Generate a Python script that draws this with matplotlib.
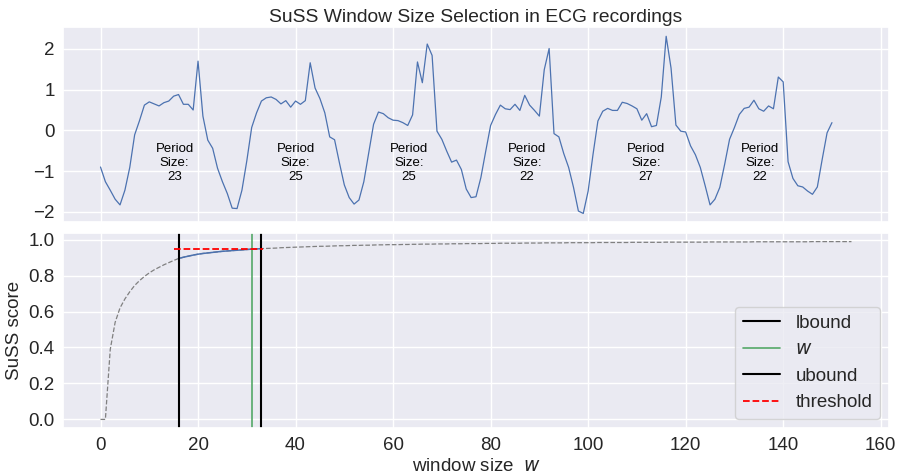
import matplotlib
matplotlib.use("Agg")
import matplotlib.pyplot as plt
from matplotlib.ticker import MultipleLocator, FormatStrFormatter
import seaborn as sns
import numpy as np

# ECG time series
ecg = [-0.90, -1.26, -1.47, -1.69, -1.83, -1.47, -0.91, -0.11, 0.24, 0.62,
       0.70, 0.65, 0.60, 0.68, 0.72, 0.84, 0.88, 0.64, 0.64, 0.50,
       1.70, 0.35, -0.24, -0.44, -0.93, -1.26, -1.55, -1.91, -1.92, -1.47,
       -0.75, 0.07, 0.43, 0.72, 0.80, 0.82, 0.76, 0.65, 0.73, 0.57,
       0.72, 0.64, 0.73, 1.66, 1.04, 0.78, 0.43, -0.16, -0.23, -0.80,
       -1.34, -1.65, -1.81, -1.71, -1.26, -0.55, 0.15, 0.45, 0.41, 0.31,
       0.25, 0.24, 0.19, 0.12, 0.38, 1.68, 1.17, 2.12, 1.84, -0.02,
       -0.22, -0.51, -0.78, -0.73, -0.96, -1.44, -1.65, -1.63, -1.16, -0.51,
       0.12, 0.39, 0.62, 0.53, 0.51, 0.64, 0.49, 0.86, 0.62, 0.49,
       0.35, 1.49, 2.01, -0.08, -0.16, -0.57, -0.91, -1.40, -1.98, -2.04,
       -1.49, -0.59, 0.23, 0.47, 0.54, 0.49, 0.49, 0.69, 0.66, 0.60,
       0.53, 0.25, 0.41, 0.09, 0.12, 0.82, 2.31, 1.53, 0.13, -0.02,
       -0.04, -0.38, -0.60, -0.91, -1.36, -1.83, -1.69, -1.40, -0.83, -0.22,
       0.07, 0.39, 0.54, 0.57, 0.74, 0.53, 0.47, 0.60, 0.53, 1.31,
       1.19, -0.77, -1.18, -1.36, -1.39, -1.49, -1.57, -1.39, -0.71, -0.06,
       0.19]

# Period annotations
period_x = [15.2, 40.0, 63.2, 87.4, 111.8, 135.2]
period_sizes = [23, 25, 25, 22, 27, 22]
period_y = -0.80

# SuSS scores per window size (0..154)
suss = [0.000, 0.000, 0.390, 0.540, 0.620, 0.670, 0.710, 0.745, 0.772, 0.795,
        0.815, 0.832, 0.846, 0.860, 0.872, 0.884, 0.895, 0.902, 0.908, 0.914,
        0.919, 0.923, 0.926, 0.929, 0.932, 0.935, 0.937, 0.939, 0.941, 0.943,
        0.945, 0.947, 0.948, 0.950, 0.951, 0.952, 0.953, 0.955, 0.956, 0.957,
        0.958, 0.959, 0.960, 0.961, 0.962, 0.963, 0.963, 0.964, 0.965, 0.966,
        0.966, 0.967, 0.968, 0.968, 0.969, 0.969, 0.970, 0.971, 0.971, 0.972,
        0.972, 0.972, 0.973, 0.973, 0.974, 0.974, 0.975, 0.975, 0.975, 0.976,
        0.976, 0.976, 0.977, 0.977, 0.977, 0.978, 0.978, 0.978, 0.978, 0.979,
        0.979, 0.979, 0.980, 0.980, 0.980, 0.980, 0.980, 0.981, 0.981, 0.981,
        0.981, 0.982, 0.982, 0.982, 0.982, 0.982, 0.983, 0.983, 0.983, 0.983,
        0.983, 0.983, 0.984, 0.984, 0.984, 0.984, 0.984, 0.984, 0.984, 0.985,
        0.985, 0.985, 0.985, 0.985, 0.985, 0.985, 0.986, 0.986, 0.986, 0.986,
        0.986, 0.986, 0.986, 0.986, 0.986, 0.987, 0.987, 0.987, 0.987, 0.987,
        0.987, 0.987, 0.987, 0.987, 0.988, 0.988, 0.988, 0.988, 0.988, 0.988,
        0.988, 0.988, 0.988, 0.988, 0.988, 0.988, 0.989, 0.989, 0.989, 0.989,
        0.989, 0.989, 0.989, 0.989, 0.989]

lbound = 16
w_sel = 31
ubound = 33
threshold = 0.95
thr_start = 15
thr_end = 33.4

sns.set_theme(style="darkgrid")
plt.rcParams['font.family'] = ['Liberation Sans', 'DejaVu Sans']
FS = 13.5

fig = plt.figure(figsize=(9.02, 4.73), dpi=100)
ax1 = fig.add_axes([0.0698, 0.530, 0.9158, 0.412])
ax2 = fig.add_axes([0.0698, 0.0945, 0.9158, 0.4135], sharex=ax1)

deep = sns.color_palette("deep")

ax1.plot(np.arange(len(ecg)), ecg, color=deep[0], lw=0.9)
for px, ps in zip(period_x, period_sizes):
    ax1.text(px, period_y, f"Period\nSize:\n{ps}", ha="center", va="center",
             fontsize=9.5, color="black")
ax1.set_title("SuSS Window Size Selection in ECG recordings", fontsize=13.9, pad=4)
ax1.tick_params(labelsize=FS, labelbottom=False, length=0, pad=6)
ax1.yaxis.set_major_locator(MultipleLocator(1))

xs = np.arange(len(suss))
ax2.plot(xs, suss, color="gray", ls="--", lw=0.9)
ax2.plot(xs[lbound:ubound + 1], suss[lbound:ubound + 1], color=deep[0], lw=1.1)
ax2.axvline(lbound, color="black", lw=1.5, label="lbound")
ax2.axvline(w_sel, color=deep[2], lw=1.2, label="$w$")
ax2.axvline(ubound, color="black", lw=1.5, label="ubound")
ax2.hlines(threshold, thr_start, thr_end, color="red", ls="--", lw=1.3, label="threshold")
ax2.yaxis.set_major_locator(MultipleLocator(0.2))
ax2.yaxis.set_major_formatter(FormatStrFormatter("%.1f"))
ax2.set_ylabel("SuSS score", fontsize=FS, labelpad=4)
ax2.set_xlabel("window size  $w$", fontsize=FS, labelpad=3)
ax2.tick_params(labelsize=FS, length=0, pad=6)
ax2.legend(loc="lower right", fontsize=FS)

fig.savefig("out.png", dpi=100)
